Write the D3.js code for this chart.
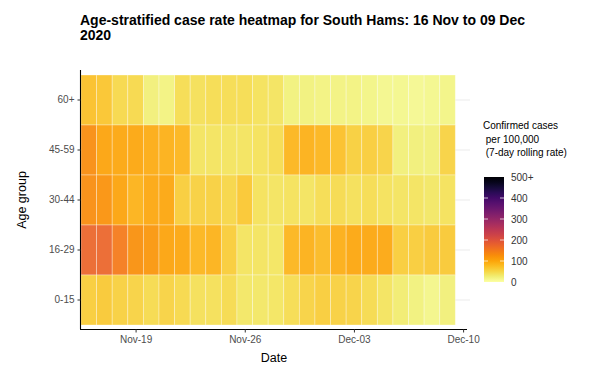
<!DOCTYPE html>
<html>
<head>
<meta charset="utf-8">
<script src="https://cdn.jsdelivr.net/npm/d3@7"></script>
<style>
  body { margin: 0; background: #fff; }
  svg { font-family: "Liberation Sans", Arial, sans-serif; display: block; }
</style>
</head>
<body>
<svg id="chart"></svg>
<script>
// categories
const ageGroups = ["60+", "45-59", "30-44", "16-29", "0-15"];
const dates = d3.timeDay.range(new Date(2020, 10, 16), new Date(2020, 11, 10)); // 16 Nov .. 09 Dec
const tickDates = [new Date(2020, 10, 19), new Date(2020, 10, 26), new Date(2020, 11, 3), new Date(2020, 11, 10)];
const legendTicks = [0, 100, 200, 300, 400, 500];

// 7-day rolling case rate per 100,000, one value per day
const rate60plus = [75, 70, 50, 50, 25, 20, 45, 42, 45, 45, 45, 40, 38, 22, 22, 20, 20, 20, 18, 15, 14, 12, 15, 18];
const rate45to59 = [128, 105, 100, 100, 95, 90, 85, 38, 38, 38, 38, 40, 45, 85, 90, 85, 75, 60, 62, 55, 25, 25, 25, 55];
const rate30to44 = [128, 122, 105, 88, 98, 100, 62, 58, 58, 52, 68, 40, 38, 40, 38, 45, 47, 42, 45, 40, 38, 38, 35, 40];
const rate16to29 = [172, 172, 148, 125, 118, 105, 100, 85, 88, 62, 38, 38, 36, 85, 90, 82, 92, 100, 100, 98, 62, 62, 65, 65];
const rate0to15 = [62, 66, 58, 56, 48, 55, 50, 42, 42, 47, 35, 35, 37, 46, 55, 62, 58, 56, 48, 38, 28, 22, 16, 24];

const rates = {
   "60+": rate60plus,
   "45-59": rate45to59,
   "30-44": rate30to44,
   "16-29": rate16to29,
   "0-15": rate0to15
};

var cells = new Array();
ageGroups.forEach(g => {
   dates.forEach((d, i) => cells.push({group: g, date: d, value: rates[g][i]}));
});

const width = 589, height = 372;
const svg = d3.select("#chart").attr("width", width).attr("height", height);

const x = d3.scaleTime()
   .domain([new Date(2020, 10, 15, 12), new Date(2020, 11, 10, 6)])
   .range([81, 467]);
const y = d3.scaleBand()
   .domain(ageGroups)
   .range([75, 325]);

const color = d3.scaleSequential(t => d3.interpolateInferno(1 - t))
   .domain([0, 500])
   .clamp(true);

// title
svg.append("text")
   .attr("x", 80).attr("y", 25)
   .attr("font-size", 14).attr("font-weight", "bold")
   .text("Age-stratified case rate heatmap for South Hams: 16 Nov to 09 Dec");
svg.append("text")
   .attr("x", 80).attr("y", 40)
   .attr("font-size", 14).attr("font-weight", "bold")
   .text("2020");

// horizontal grid
svg.append("g")
   .selectAll("line")
   .data(ageGroups)
   .enter().append("line")
      .attr("x1", 81).attr("x2", 470)
      .attr("y1", d => y(d) + y.bandwidth() / 2)
      .attr("y2", d => y(d) + y.bandwidth() / 2)
      .attr("stroke", "#ebebeb")
      .attr("stroke-width", 1);

// tiles
const dayW = x(new Date(2020, 10, 17)) - x(new Date(2020, 10, 16));
svg.append("g")
   .selectAll("rect")
   .data(cells)
   .enter().append("rect")
      .attr("x", d => x(d.date) - dayW / 2)
      .attr("y", d => y(d.group))
      .attr("width", dayW)
      .attr("height", y.bandwidth())
      .attr("fill", d => color(d.value))
      .attr("fill-opacity", 0.93)
      .attr("stroke", "#fff")
      .attr("stroke-opacity", 0.4)
      .attr("stroke-width", 0.8);

// axes
const xAxis = svg.append("g")
   .attr("transform", "translate(0,329.5)")
   .call(d3.axisBottom(x).tickValues(tickDates).tickFormat(d3.timeFormat("%b-%d")).tickSizeOuter(0).tickSize(3).tickPadding(3));
const yAxis = svg.append("g")
   .attr("transform", "translate(80.5,0)")
   .call(d3.axisLeft(y).tickSizeOuter(0).tickSize(3).tickPadding(3));

[xAxis, yAxis].forEach(a => {
   a.select(".domain").attr("stroke", "#000").attr("stroke-width", 1.1);
   a.selectAll(".tick line").attr("stroke", "#333");
   a.selectAll(".tick text").attr("font-size", 10).attr("fill", "#4d4d4d")
      .attr("font-family", "Liberation Sans, Arial, sans-serif");
});
xAxis.select(".domain").attr("d", "M80,0H467");
yAxis.select(".domain").attr("d", "M0,70V329.5");

svg.append("text")
   .attr("x", 274).attr("y", 362)
   .attr("text-anchor", "middle")
   .attr("font-size", 12.5)
   .text("Date");
svg.append("text")
   .attr("transform", "translate(26,200) rotate(-90)")
   .attr("text-anchor", "middle")
   .attr("font-size", 12.5)
   .text("Age group");

// legend
const legTitle = ["Confirmed cases", " per 100,000", " (7-day rolling rate)"];
svg.append("g")
   .selectAll("text")
   .data(legTitle)
   .enter().append("text")
      .attr("x", 483)
      .attr("y", (d, i) => 129 + i * 13.5)
      .attr("font-size", 10)
      .attr("xml:space", "preserve")
      .style("white-space", "pre")
      .text(d => d);

const legY = d3.scaleLinear().domain([0, 500]).range([282, 177]);
const defs = svg.append("defs");
const grad = defs.append("linearGradient")
   .attr("id", "legGrad")
   .attr("x1", 0).attr("y1", 1).attr("x2", 0).attr("y2", 0);
d3.range(0, 1.0001, 0.05).forEach(t => {
   grad.append("stop")
      .attr("offset", t)
      .attr("stop-color", color(t * 500));
});
svg.append("rect")
   .attr("x", 484).attr("y", legY(500))
   .attr("width", 20).attr("height", legY(0) - legY(500))
   .attr("fill", "url(#legGrad)");

const legTickG = svg.append("g")
   .selectAll("g")
   .data(legendTicks)
   .enter().append("g");
legTickG.filter(d => d > 0 && d < 500).append("line")
   .attr("x1", 484).attr("x2", 488)
   .attr("y1", d => legY(d)).attr("y2", d => legY(d))
   .attr("stroke", "#fff").attr("stroke-opacity", 0.7);
legTickG.filter(d => d > 0 && d < 500).append("line")
   .attr("x1", 500).attr("x2", 504)
   .attr("y1", d => legY(d)).attr("y2", d => legY(d))
   .attr("stroke", "#fff").attr("stroke-opacity", 0.7);
legTickG.append("text")
   .attr("x", 511)
   .attr("y", d => legY(d) + 3.5)
   .attr("font-size", 10)
   .attr("fill", "#333")
   .text(d => d === 500 ? "500+" : d);
</script>
</body>
</html>
